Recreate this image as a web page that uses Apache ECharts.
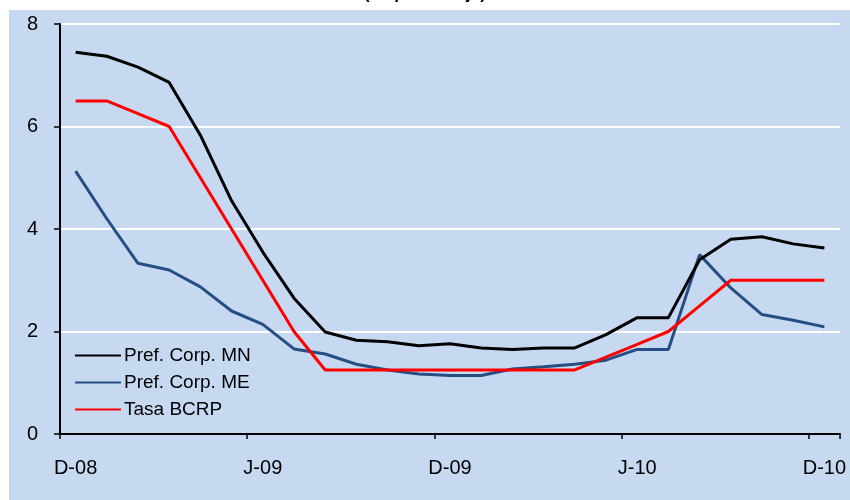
<!DOCTYPE html>
<html>
<head>
<meta charset="utf-8">
<script src="https://cdn.jsdelivr.net/npm/echarts@6/dist/echarts.min.js"></script>
<style>
  html, body { margin: 0; padding: 0; background: #fff; }
  #chart { width: 850px; height: 500px; }
</style>
</head>
<body>
<div id="chart"></div>
<script>
// meses dic-08 ... dic-10
var meses = ['D-08','E-09','F-09','M-09','A-09','M-09','J-09','J-09','A-09','S-09','O-09','N-09',
             'D-09','E-10','F-10','M-10','A-10','M-10','J-10','J-10','A-10','S-10','O-10','N-10','D-10'];

var prefMN = [7.45, 7.37, 7.16, 6.86, 5.83, 4.55, 3.55, 2.65, 1.99, 1.83, 1.80, 1.72,
              1.76, 1.68, 1.65, 1.68, 1.68, 1.94, 2.27, 2.27, 3.40, 3.80, 3.85, 3.71, 3.63];
var prefME = [5.13, 4.20, 3.33, 3.20, 2.87, 2.40, 2.14, 1.66, 1.56, 1.36, 1.25, 1.17,
              1.14, 1.14, 1.27, 1.31, 1.36, 1.44, 1.65, 1.65, 3.50, 2.85, 2.33, 2.22, 2.09];
var tasaBCRP = [6.5, 6.5, 6.25, 6.0, 5.0, 4.0, 3.0, 2.0, 1.25, 1.25, 1.25, 1.25,
                1.25, 1.25, 1.25, 1.25, 1.25, 1.5, 1.75, 2.0, 2.5, 3.0, 3.0, 3.0, 3.0];

var chart = echarts.init(document.getElementById('chart'));
var fuente = 'Liberation Sans, Arial, sans-serif';

var option = {
    animation: false,
    backgroundColor: '#fff',
    textStyle: { fontFamily: fuente },
    title: {
        text: '(en porcentaje)',
        left: 'center',
        top: -19,
        textStyle: { fontSize: 17, fontWeight: 'bold', color: '#000', fontFamily: fuente }
    },
    graphic: [{
        type: 'rect',
        z: -10,
        silent: true,
        shape: { x: 9, y: 10, width: 841, height: 490 },
        style: { fill: '#C6D9F1' }
    }],
    legend: {
        orient: 'vertical',
        left: 70,
        top: 341,
        itemWidth: 46,
        itemHeight: 2,
        itemGap: 8,
        icon: 'rect',
        itemStyle: { borderWidth: 0 },
        textStyle: { fontSize: 19, color: '#000', fontFamily: fuente, padding: [0, 0, 0, -2] },
        data: ['Pref. Corp. MN', 'Pref. Corp. ME', 'Tasa BCRP']
    },
    grid: { left: 60, right: 10, top: 24, bottom: 66 },
    xAxis: {
        type: 'category',
        data: meses,
        boundaryGap: true,
        axisLine: { lineStyle: { color: '#000', width: 2 } },
        axisTick: { show: true, interval: 5, length: 5, lineStyle: { color: '#000', width: 1.5 } },
        axisLabel: { interval: 5, margin: 24, fontSize: 20, color: '#000', fontFamily: fuente },
        splitLine: { show: false }
    },
    yAxis: {
        type: 'value',
        min: 0,
        max: 8,
        interval: 2,
        axisLine: { show: true, lineStyle: { color: '#000', width: 2 } },
        axisTick: { show: true, inside: false, length: 6, lineStyle: { color: '#000', width: 1.5 } },
        axisLabel: { margin: 22, fontSize: 20, color: '#000', fontFamily: fuente },
        splitLine: { lineStyle: { color: '#fff', width: 2 } }
    },
    series: [
        {
            name: 'Pref. Corp. MN',
            type: 'line',
            data: prefMN,
            symbol: 'none',
            itemStyle: { color: '#000' },
            lineStyle: { color: '#000', width: 3 },
            z: 3
        },
        {
            name: 'Pref. Corp. ME',
            type: 'line',
            data: prefME,
            symbol: 'none',
            itemStyle: { color: '#254F84' },
            lineStyle: { color: '#254F84', width: 3 },
            z: 2
        },
        {
            name: 'Tasa BCRP',
            type: 'line',
            data: tasaBCRP,
            symbol: 'none',
            itemStyle: { color: '#FF0000' },
            lineStyle: { color: '#FF0000', width: 3 },
            z: 4
        }
    ]
};

chart.setOption(option);
</script>
</body>
</html>
